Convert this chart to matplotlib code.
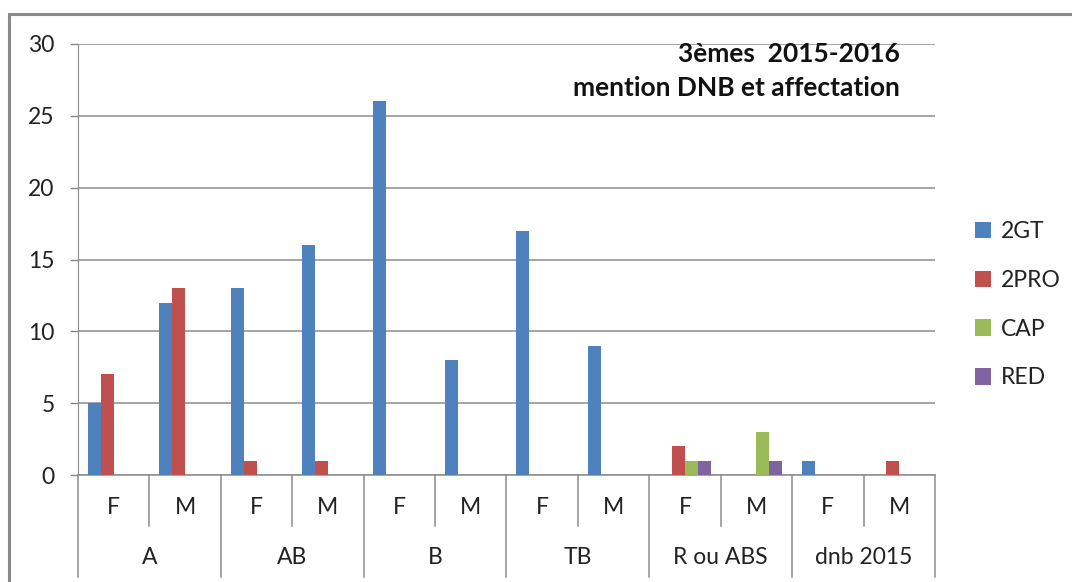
import matplotlib
matplotlib.use("Agg")
import matplotlib.pyplot as plt
from matplotlib.patches import Rectangle
import numpy as np

plt.rcParams['font.family'] = ['Lato', 'DejaVu Sans']

groups = ["A", "AB", "B", "TB", "R ou ABS", "dnb 2015"]
subcats = ["F", "M"]
series_names = ["2GT", "2PRO", "CAP", "RED"]
colors = ["#4F81BD", "#C0504D", "#9BBB59", "#8064A2"]
v_2gt = [5, 12, 13, 16, 26, 8, 17, 9, 0, 0, 1, 0]
v_2pro = [7, 13, 1, 1, 0, 0, 0, 0, 2, 0, 0, 1]
v_cap = [0, 0, 0, 0, 0, 0, 0, 0, 1, 3, 0, 0]
v_red = [0, 0, 0, 0, 0, 0, 0, 0, 1, 1, 0, 0]
values = [v_2gt, v_2pro, v_cap, v_red]
title = "3èmes  2015-2016\nmention DNB et affectation"

W, H = 1072, 582
FS = 16.5
fig = plt.figure(figsize=(W / 100, H / 100), dpi=100)
ax = fig.add_axes([78 / W, (H - 475) / H, (935 - 78) / W, (475 - 44) / H])

n = len(v_2gt)
ns = len(values)
gap = 1.5
bw = 1.0 / (ns + gap)
x = np.arange(n)
for i, (vals, c, name) in enumerate(zip(values, colors, series_names)):
    off = -0.5 + gap * bw / 2 + i * bw
    ax.bar(x + off, vals, width=bw, align='edge', color=c, label=name, zorder=3)

ax.set_xlim(-0.5, n - 0.5)
ax.set_ylim(0, 30)
ax.set_yticks(range(0, 31, 5))
ax.tick_params(axis='y', labelsize=FS, color='#868686', length=5.8, width=1, pad=11, labelcolor='#222222')
ax.tick_params(axis='x', bottom=False, labelbottom=False)
ax.grid(axis='y', color='#8c8c8c', linewidth=1.1, zorder=0)
for s in ['top', 'right']:
    ax.spines[s].set_visible(False)
ax.spines['left'].set_color('#8c8c8c')
ax.spines['bottom'].set_color('#8c8c8c')
ax.spines['bottom'].set_linewidth(1.1)

# multi-level category axis
trans = ax.get_xaxis_transform()
px = 1.0 / (475 - 44)
y_sub = -(526 - 475) * px
y_grp = -(577 - 475) * px
for k in range(n + 1):
    xb = k - 0.5
    if k % 2 == 0:
        ax.plot([xb, xb], [0, y_grp], transform=trans, color='#8c8c8c', lw=1.1, clip_on=False)
    else:
        ax.plot([xb, xb], [0, y_sub], transform=trans, color='#8c8c8c', lw=1.1, clip_on=False)
for k in range(n):
    ax.text(k, -(508 - 475) * px, subcats[k % 2], transform=trans, ha='center', va='center',
            fontsize=FS, color='#222222')
for g, name in enumerate(groups):
    ax.text(2 * g + 0.5, -(558 - 475) * px, name, transform=trans, ha='center', va='center',
            fontsize=FS, color='#222222')

ax.text(900 / W, (H - 71) / H, title, transform=fig.transFigure, ha='right', va='center',
        fontsize=19, fontweight='bold', linespacing=1.45, color='#111111')

leg = fig.legend(loc='upper left', bbox_to_anchor=(954 / W, (H - 200) / H), frameon=False,
                 fontsize=FS, handlelength=0.7, handleheight=0.7, handletextpad=0.45,
                 labelspacing=1.22, labelcolor='#222222')

fig.patches.append(Rectangle((9 / W, -0.1), 1.2, (H - 14) / H + 0.1, transform=fig.transFigure,
                             fill=False, edgecolor='#8a8a8a', linewidth=2.2))

fig.savefig("out.png", dpi=100)
